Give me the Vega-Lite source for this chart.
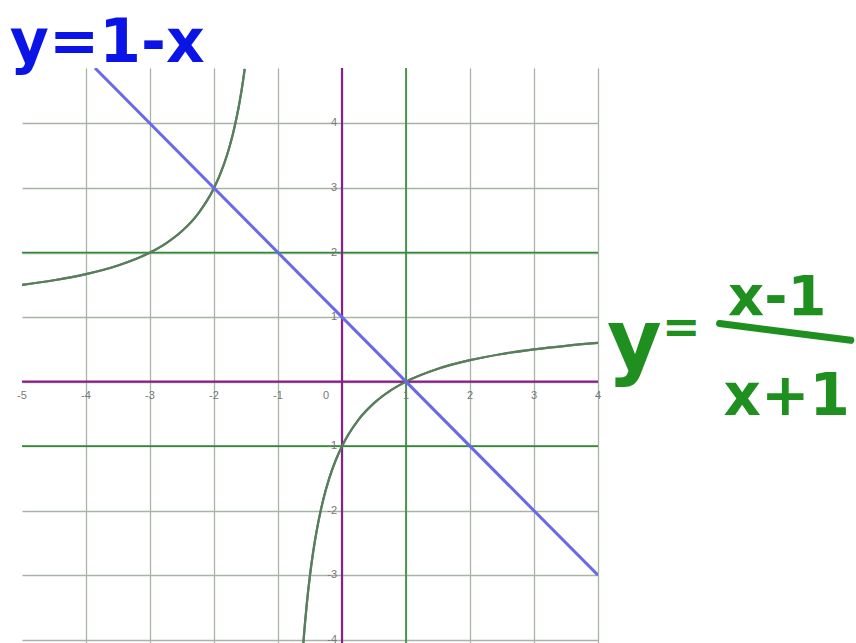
{
  "$schema": "https://vega.github.io/schema/vega-lite/v6.json",
  "width": 576,
  "height": 575,
  "autosize": {"type": "none"},
  "padding": {"left": 22, "top": 68, "right": 258, "bottom": 0},
  "background": "white",
  "config": {"view": {"stroke": null}},
  "data": {"values": [{}]},
  "datasets": {
    "curves": [
      {"x": -3.86, "y": 4.86, "series": "line", "branch": "a"},
      {"x": 4, "y": -3, "series": "line", "branch": "a"},
      {"x": -5, "y": 1.5, "series": "curve", "branch": "left"},
      {"x": -4.5, "y": 1.5714, "series": "curve", "branch": "left"},
      {"x": -4, "y": 1.6667, "series": "curve", "branch": "left"},
      {"x": -3.5, "y": 1.8, "series": "curve", "branch": "left"},
      {"x": -3, "y": 2, "series": "curve", "branch": "left"},
      {"x": -2.75, "y": 2.1429, "series": "curve", "branch": "left"},
      {"x": -2.5, "y": 2.3333, "series": "curve", "branch": "left"},
      {"x": -2.25, "y": 2.6, "series": "curve", "branch": "left"},
      {"x": -2, "y": 3, "series": "curve", "branch": "left"},
      {"x": -1.9, "y": 3.2222, "series": "curve", "branch": "left"},
      {"x": -1.8, "y": 3.5, "series": "curve", "branch": "left"},
      {"x": -1.75, "y": 3.6667, "series": "curve", "branch": "left"},
      {"x": -1.7, "y": 3.8571, "series": "curve", "branch": "left"},
      {"x": -1.65, "y": 4.0769, "series": "curve", "branch": "left"},
      {"x": -1.6, "y": 4.3333, "series": "curve", "branch": "left"},
      {"x": -1.55, "y": 4.6364, "series": "curve", "branch": "left"},
      {"x": -1.52, "y": 4.846, "series": "curve", "branch": "left"},
      {"x": -0.604, "y": -4.05, "series": "curve", "branch": "right"},
      {"x": -0.58, "y": -3.762, "series": "curve", "branch": "right"},
      {"x": -0.55, "y": -3.4444, "series": "curve", "branch": "right"},
      {"x": -0.5, "y": -3, "series": "curve", "branch": "right"},
      {"x": -0.45, "y": -2.6364, "series": "curve", "branch": "right"},
      {"x": -0.4, "y": -2.3333, "series": "curve", "branch": "right"},
      {"x": -0.3, "y": -1.8571, "series": "curve", "branch": "right"},
      {"x": -0.2, "y": -1.5, "series": "curve", "branch": "right"},
      {"x": -0.1, "y": -1.2222, "series": "curve", "branch": "right"},
      {"x": 0, "y": -1, "series": "curve", "branch": "right"},
      {"x": 0.25, "y": -0.6, "series": "curve", "branch": "right"},
      {"x": 0.5, "y": -0.3333, "series": "curve", "branch": "right"},
      {"x": 0.75, "y": -0.1429, "series": "curve", "branch": "right"},
      {"x": 1, "y": 0, "series": "curve", "branch": "right"},
      {"x": 1.5, "y": 0.2, "series": "curve", "branch": "right"},
      {"x": 2, "y": 0.3333, "series": "curve", "branch": "right"},
      {"x": 2.5, "y": 0.4286, "series": "curve", "branch": "right"},
      {"x": 3, "y": 0.5, "series": "curve", "branch": "right"},
      {"x": 3.5, "y": 0.5556, "series": "curve", "branch": "right"},
      {"x": 4, "y": 0.6, "series": "curve", "branch": "right"}
    ],
    "xticks": [
      {"v": -5, "label": "-5"}, {"v": -4, "label": "-4"}, {"v": -3, "label": "-3"},
      {"v": -2, "label": "-2"}, {"v": -1, "label": "-1"}, {"v": 1, "label": "1"},
      {"v": 2, "label": "2"}, {"v": 3, "label": "3"}, {"v": 4, "label": "4"}
    ],
    "yticks": [
      {"v": -4, "label": "-4"}, {"v": -3, "label": "-3"}, {"v": -2, "label": "-2"},
      {"v": -1, "label": "-1"}, {"v": 1, "label": "1"}, {"v": 2, "label": "2"},
      {"v": 3, "label": "3"}, {"v": 4, "label": "4"}
    ]
  },
  "layer": [
    {
      "data": {"name": "curves"},
      "transform": [{"filter": "datum.series === 'curve'"}],
      "mark": {"type": "line", "color": "#5a7d5e", "strokeWidth": 2.2, "interpolate": "monotone", "clip": true},
      "encoding": {
        "x": {"field": "x", "type": "quantitative", "scale": {"domain": [-5, 4], "nice": false, "zero": false},
          "axis": {"title": null, "labels": false, "ticks": false, "domain": false, "grid": true, "values": [-4, -3, -2, -1, 0, 1, 2, 3, 4], "gridColor": "#a6b4a6", "gridWidth": 1.3, "gridOpacity": 1}},
        "y": {"field": "y", "type": "quantitative", "scale": {"domain": [-4.05, 4.86], "nice": false, "zero": false},
          "axis": {"title": null, "labels": false, "ticks": false, "domain": false, "grid": true, "values": [-4, -3, -2, -1, 0, 1, 2, 3, 4], "gridColor": "#a6b4a6", "gridWidth": 1.3, "gridOpacity": 1}},
        "detail": {"field": "branch"}
      }
    },
    {"mark": {"type": "rule", "color": "#2f8a35", "strokeWidth": 1.6}, "encoding": {"x": {"datum": 1, "type": "quantitative"}}},
    {"mark": {"type": "rule", "color": "#2f8a35", "strokeWidth": 1.6}, "encoding": {"y": {"datum": 2, "type": "quantitative"}}},
    {"mark": {"type": "rule", "color": "#2f8a35", "strokeWidth": 1.6}, "encoding": {"y": {"datum": -1, "type": "quantitative"}}},
    {"mark": {"type": "rule", "color": "#8a1f8a", "strokeWidth": 2.2}, "encoding": {"x": {"datum": 0, "type": "quantitative"}}},
    {"mark": {"type": "rule", "color": "#8a1f8a", "strokeWidth": 2.2}, "encoding": {"y": {"datum": 0, "type": "quantitative"}}},
    {
      "data": {"name": "curves"},
      "transform": [{"filter": "datum.series === 'curve'"}],
      "mark": {"type": "line", "color": "#5a7d5e", "strokeWidth": 2.2, "interpolate": "monotone", "clip": true},
      "encoding": {
        "x": {"field": "x", "type": "quantitative"},
        "y": {"field": "y", "type": "quantitative"},
        "detail": {"field": "branch"}
      }
    },
    {
      "data": {"name": "curves"},
      "transform": [{"filter": "datum.series === 'line'"}],
      "mark": {"type": "line", "color": "#6a6ae6", "strokeWidth": 3, "clip": true},
      "encoding": {
        "x": {"field": "x", "type": "quantitative"},
        "y": {"field": "y", "type": "quantitative"}
      }
    },
    {
      "data": {"name": "xticks"},
      "mark": {"type": "text", "font": "Liberation Sans", "fontSize": 11, "color": "#777777", "baseline": "top", "align": "center", "dy": 8},
      "encoding": {
        "x": {"field": "v", "type": "quantitative"},
        "y": {"datum": 0, "type": "quantitative"},
        "text": {"field": "label"}
      }
    },
    {
      "mark": {"type": "text", "font": "Liberation Sans", "fontSize": 11, "color": "#777777", "baseline": "top", "align": "center", "dy": 8, "dx": -16, "text": "0"},
      "encoding": {
        "x": {"datum": 0, "type": "quantitative"},
        "y": {"datum": 0, "type": "quantitative"}
      }
    },
    {
      "data": {"name": "yticks"},
      "mark": {"type": "text", "font": "Liberation Sans", "fontSize": 11, "color": "#777777", "baseline": "middle", "align": "right", "dx": -5},
      "encoding": {
        "x": {"datum": 0, "type": "quantitative"},
        "y": {"field": "v", "type": "quantitative"},
        "text": {"field": "label"}
      }
    },
    {
      "mark": {"type": "text", "font": "DejaVu Sans", "fontWeight": "bold", "fontSize": 60, "color": "#0a14e6", "align": "left", "baseline": "alphabetic", "text": "y=1-x", "clip": false},
      "encoding": {
        "x": {"datum": -5.19, "type": "quantitative"},
        "y": {"datum": 4.95, "type": "quantitative"}
      }
    },
    {
      "mark": {"type": "text", "font": "DejaVu Sans", "fontWeight": "bold", "fontSize": 84, "color": "#1f8f1f", "align": "left", "baseline": "alphabetic", "text": "y", "clip": false},
      "encoding": {
        "x": {"datum": 4.14, "type": "quantitative"},
        "y": {"datum": 0.2, "type": "quantitative"}
      }
    },
    {
      "mark": {"type": "text", "font": "DejaVu Sans", "fontWeight": "bold", "fontSize": 46, "color": "#1f8f1f", "align": "left", "baseline": "alphabetic", "text": "=", "clip": false},
      "encoding": {
        "x": {"datum": 5.0, "type": "quantitative"},
        "y": {"datum": 0.6, "type": "quantitative"}
      }
    },
    {
      "mark": {"type": "text", "font": "DejaVu Sans", "fontWeight": "bold", "fontSize": 56, "color": "#1f8f1f", "align": "center", "baseline": "alphabetic", "text": "x-1", "clip": false},
      "encoding": {
        "x": {"datum": 6.8, "type": "quantitative"},
        "y": {"datum": 1.04, "type": "quantitative"}
      }
    },
    {
      "mark": {"type": "rule", "color": "#1f8f1f", "strokeWidth": 7, "strokeCap": "round", "clip": false},
      "encoding": {
        "x": {"datum": 5.9, "type": "quantitative"},
        "x2": {"datum": 7.95},
        "y": {"datum": 0.9, "type": "quantitative"},
        "y2": {"datum": 0.64}
      }
    },
    {
      "mark": {"type": "text", "font": "DejaVu Sans", "fontWeight": "bold", "fontSize": 58, "color": "#1f8f1f", "align": "center", "baseline": "alphabetic", "text": "x+1", "clip": false},
      "encoding": {
        "x": {"datum": 6.95, "type": "quantitative"},
        "y": {"datum": -0.52, "type": "quantitative"}
      }
    }
  ]
}
